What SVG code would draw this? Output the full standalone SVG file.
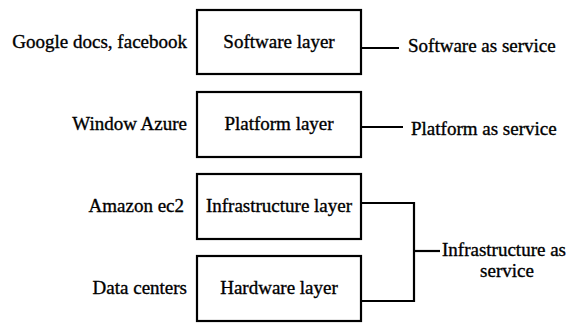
<svg xmlns="http://www.w3.org/2000/svg" width="570" height="325" viewBox="0 0 570 325">
  <style>
    .box { fill: #fff; stroke: #000; stroke-width: 2.2; }
    .wire { fill: none; stroke: #000; stroke-width: 2.2; }
    text { font-family: "Liberation Serif", "Times New Roman", serif; font-size: 19px; fill: #000; stroke: #000; stroke-width: 0.35; }
    .mid { text-anchor: middle; }
    .end { text-anchor: end; }
  </style>
  <rect width="570" height="325" fill="#fff"/>

  <!-- cloud stack layers -->
  <g id="software-layer">
    <rect class="box" x="197" y="10" width="164" height="64"/>
    <text class="mid" x="279" y="48">Software layer</text>
  </g>
  <g id="platform-layer">
    <rect class="box" x="197" y="92" width="164" height="65"/>
    <text class="mid" x="279" y="130">Platform layer</text>
  </g>
  <g id="infrastructure-layer">
    <rect class="box" x="197" y="174" width="164" height="65"/>
    <text class="mid" x="279" y="212">Infrastructure layer</text>
  </g>
  <g id="hardware-layer">
    <rect class="box" x="197" y="256" width="164" height="65"/>
    <text class="mid" x="279" y="294">Hardware layer</text>
  </g>

  <!-- example providers on the left -->
  <g id="example-software"><text class="end" x="187" y="48">Google docs, facebook</text></g>
  <g id="example-platform"><text class="end" x="187" y="130">Window Azure</text></g>
  <g id="example-infrastructure"><text class="end" x="184" y="212">Amazon ec2</text></g>
  <g id="example-hardware"><text class="end" x="187" y="294">Data centers</text></g>

  <!-- service models on the right -->
  <g id="saas"><text x="408" y="52">Software as service</text></g>
  <g id="paas"><text x="411" y="135">Platform as service</text></g>
  <g id="iaas">
    <text x="442" y="256">Infrastructure as</text>
    <text class="mid" x="507" y="277">service</text>
  </g>

  <g id="connectors">
    <path class="wire" d="M361 48 H399"/>
    <path class="wire" d="M361 127 H403"/>
    <path class="wire" d="M361 203 H414 V301 H361"/>
    <path class="wire" d="M414 251 H440"/>
  </g>
</svg>
